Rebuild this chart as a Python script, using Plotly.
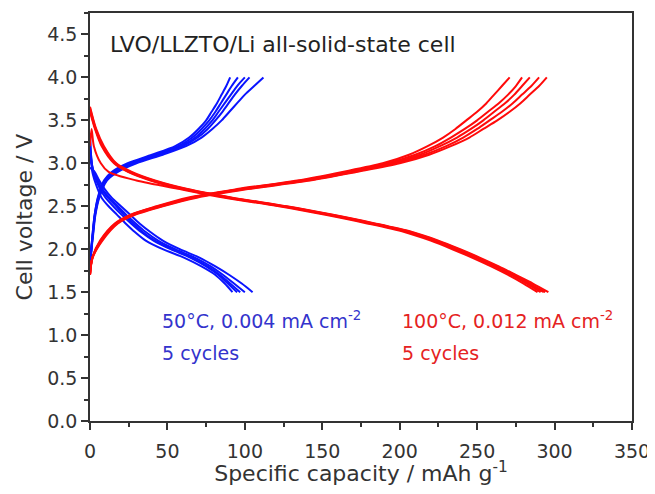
import plotly.graph_objects as go

# ---------------- data ----------------
# 50 °C cell (blue) - charge curves: voltage grid and capacity for 5 cycles
blue_charge_v = [1.8, 2.0, 2.2, 2.4, 2.6, 2.8, 2.9, 3.0, 3.1, 3.2, 3.3, 3.4, 3.5, 3.6, 3.7, 3.8, 3.9, 4.0]
blue_charge_cap = [
    [0, 0.8, 1.8, 3.0, 5.0, 9.0, 14, 24, 40, 55, 64, 70, 75, 78.5, 82, 85, 88, 90.5],
    [0, 0.8, 1.8, 3.0, 5.2, 9.5, 15, 26, 42, 57, 66, 72, 77, 81, 84.5, 88, 91.5, 95.5],
    [0, 0.9, 2.0, 3.2, 5.5, 10, 16, 27, 44, 58.5, 68, 74, 79, 83, 87, 91, 95, 100],
    [0, 0.9, 2.0, 3.3, 5.7, 10.5, 17, 28, 45, 60, 69.5, 76, 81, 85.5, 89.5, 93.5, 98, 103],
    [0, 1.0, 2.2, 3.5, 6.0, 11, 18, 30, 47, 62, 72, 79, 85, 90, 95, 100, 106, 112],
]
# 50 °C cell (blue) - discharge curves
blue_dis_start_v = [3.35, 3.25, 3.15, 3.05, 2.95]
blue_dis_v = [2.9, 2.8, 2.7, 2.6, 2.5, 2.4, 2.3, 2.2, 2.1, 2.0, 1.9, 1.8, 1.7, 1.6, 1.5]
blue_dis_cap = [
    [1.5, 3, 5, 7.5, 12, 17.5, 23, 29, 36, 47, 61, 72, 81, 87, 92],
    [2, 4, 6.5, 10, 15, 20.5, 26.5, 33, 41, 52, 65, 75, 83, 89, 95],
    [2.2, 4.5, 7.5, 11.5, 17, 22, 28, 34, 42, 53, 66, 76, 84, 90.5, 97],
    [2.5, 5, 8, 12.5, 18, 23.5, 29.5, 36, 44, 55, 68, 78, 86, 93, 100],
    [3, 6, 9.5, 14, 20, 26, 32, 39, 47, 58, 71, 81, 90, 98, 105],
]

# 100 °C cell (red) - charge curves
red_charge_v = [1.7, 1.9, 2.1, 2.3, 2.4, 2.5, 2.6, 2.7, 2.8, 2.9, 3.0, 3.1, 3.2, 3.3, 3.4, 3.5, 3.6, 3.7, 3.8, 3.9, 4.0]
red_charge_cap = [
    [0, 1.5, 6.5, 16, 26, 43, 63, 95, 134, 163, 189, 206, 218, 228, 236, 243, 250, 256, 261, 266, 271],
    [0, 1.5, 7, 16.5, 26.5, 44, 65, 97, 136, 166, 192, 210, 223, 233, 242, 250, 257, 264, 270, 275, 279],
    [0, 1.5, 7, 17, 27, 45, 66, 98, 138, 168, 195, 213, 226, 237, 246, 254, 261, 268, 274, 279, 284],
    [0, 1.6, 7.5, 17.5, 28, 46, 67, 100, 140, 170, 197, 216, 230, 241, 250, 258, 266, 273, 279, 285, 290],
    [0, 1.7, 8, 18, 29, 47, 69, 102, 142, 172, 200, 219, 233, 245, 254, 263, 271, 278, 284, 290, 295],
]
# 100 °C cell (red) - discharge curves
red_dis_start_v = [3.2, 3.6, 3.62, 3.64, 3.66]
red_dis_v = [3.4, 3.2, 3.0, 2.9, 2.8, 2.7, 2.6, 2.5, 2.4, 2.3, 2.2, 2.1, 2.0, 1.9, 1.8, 1.7, 1.6, 1.5]
red_dis_cap = [
    [1.0, 2.5, 7, 12, 30, 58, 87, 122, 152, 179, 203, 220, 234, 247, 259, 270, 280, 289],
    [3.2, 7.5, 15.5, 24.5, 39, 60, 89, 124, 154, 181, 205, 222, 236, 249, 261, 272, 282, 291],
    [3.5, 8, 16, 25, 40, 61, 90, 125, 155, 182, 206, 223, 237, 250, 262, 273, 283, 293],
    [3.7, 8.5, 16.5, 26, 41, 62, 91, 126, 156, 183, 207, 224, 238, 251, 263, 274, 284, 294],
    [4.0, 9, 17, 27, 42, 63, 92, 127, 157, 184, 208, 225, 239, 252, 264, 275, 286, 296],
]

x_ticks = [0, 50, 100, 150, 200, 250, 300, 350]
y_ticks = [0.0, 0.5, 1.0, 1.5, 2.0, 2.5, 3.0, 3.5, 4.0, 4.5]

BLUE = "#0a14ff"
RED = "#ff0a0a"

fig = go.Figure()
line_opts = dict(width=2, shape="spline", smoothing=0.8)

for caps in blue_charge_cap:
    fig.add_trace(go.Scatter(x=caps, y=blue_charge_v, mode="lines",
                             line=dict(color=BLUE, **line_opts), showlegend=False, hoverinfo="skip"))
for v0, caps in zip(blue_dis_start_v, blue_dis_cap):
    fig.add_trace(go.Scatter(x=[0] + caps, y=[v0] + blue_dis_v, mode="lines",
                             line=dict(color=BLUE, **line_opts), showlegend=False, hoverinfo="skip"))
for caps in red_charge_cap:
    fig.add_trace(go.Scatter(x=caps, y=red_charge_v, mode="lines",
                             line=dict(color=RED, **line_opts), showlegend=False, hoverinfo="skip"))
for v0, caps in zip(red_dis_start_v, red_dis_cap):
    fig.add_trace(go.Scatter(x=[0] + caps, y=[v0] + red_dis_v, mode="lines",
                             line=dict(color=RED, **line_opts), showlegend=False, hoverinfo="skip"))

FONT = "DejaVu Sans"
axis_common = dict(
    showline=True, linecolor="#333333", linewidth=1.5, mirror=True,
    showgrid=False, zeroline=False, automargin=False, ticklabeloverflow="allow",
    ticks="outside", ticklen=7, tickwidth=1.5, tickcolor="#333333",
    tickfont=dict(family=FONT, size=19, color="#333333"),
)

# the page body adds an 8 px offset; margins are set so the plot box matches the reference
fig.update_layout(
    width=647, height=478,
    margin=dict(l=82, r=23, t=5, b=65),
    paper_bgcolor="white", plot_bgcolor="white",
    font=dict(family=FONT, color="#333333"),
    xaxis=dict(
        range=[0, 350], tickvals=x_ticks, ticktext=[str(v) for v in x_ticks],
        ticklabelstandoff=5,
        minor=dict(dtick=25, ticks="outside", ticklen=4, tickwidth=1.5, tickcolor="#333333"),
        title=dict(text="Specific capacity / mAh g<sup>-1</sup>",
                   font=dict(family=FONT, size=22, color="#333333"), standoff=4),
        **axis_common,
    ),
    yaxis=dict(
        range=[0, 4.75], tickvals=y_ticks, ticktext=[f"{v:.1f}" for v in y_ticks],
        minor=dict(dtick=0.25, ticks="outside", ticklen=4, tickwidth=1.5, tickcolor="#333333"),
        title=dict(text="Cell voltage / V",
                   font=dict(family=FONT, size=22, color="#333333"), standoff=9),
        **axis_common,
    ),
)

fig.add_annotation(x=0.033, y=0.924, xref="paper", yref="paper",
                   text="LVO/LLZTO/Li all-solid-state cell", showarrow=False,
                   xanchor="left", yanchor="middle",
                   font=dict(family=FONT, size=22, color="#222222"))
fig.add_annotation(x=45, y=1.18, text="50°C, 0.004 mA cm<sup>-2</sup>", showarrow=False,
                   xanchor="left", yanchor="middle", font=dict(family=FONT, size=19, color="#3333cc"))
fig.add_annotation(x=45, y=0.79, text="5 cycles", showarrow=False,
                   xanchor="left", yanchor="middle", font=dict(family=FONT, size=19, color="#3333cc"))
fig.add_annotation(x=200, y=1.18, text="100°C, 0.012 mA cm<sup>-2</sup>", showarrow=False,
                   xanchor="left", yanchor="middle", font=dict(family=FONT, size=19, color="#e52222"))
fig.add_annotation(x=200, y=0.79, text="5 cycles", showarrow=False,
                   xanchor="left", yanchor="middle", font=dict(family=FONT, size=19, color="#e52222"))

fig.write_html("out.html")
